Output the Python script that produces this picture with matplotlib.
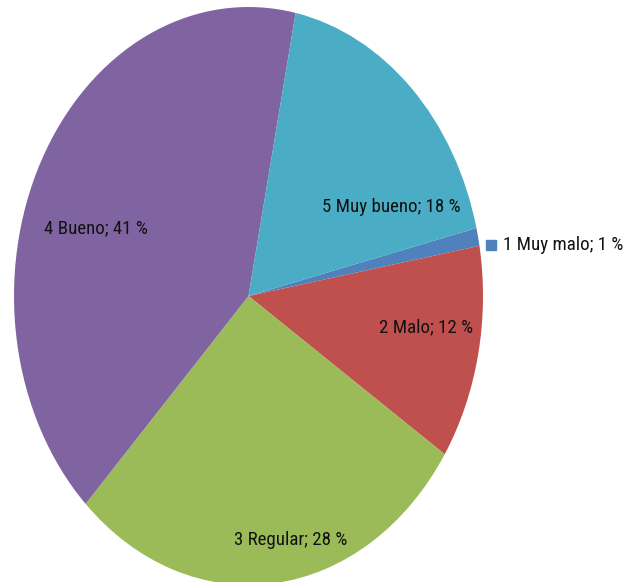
import matplotlib
matplotlib.use("Agg")
import matplotlib.pyplot as plt
from matplotlib import font_manager

# data
categories = ["1 Muy malo", "2 Malo", "3 Regular", "4 Bueno", "5 Muy bueno"]
shares = [1, 12, 28, 41, 18]
colors = ["#4F81BD", "#C0504D", "#9BBB59", "#8064A2", "#4BACC6"]

# label positions (axes data units, pie radius = 1)
label_pos = {
    "1 Muy malo": (1.085, 0.176),
    "2 Malo": (0.757, -0.107),
    "3 Regular": (0.181, -0.844),
    "4 Bueno": (-0.65, 0.235),
    "5 Muy bueno": (0.608, 0.308),
}


def pick_font():
    '''Use a narrow font when there is one'''
    names = {f.name for f in font_manager.fontManager.ttflist}
    for name in ["Liberation Sans Narrow", "Roboto Condensed", "Open Sans Condensed"]:
        if name in names:
            return [name, "DejaVu Sans"]
    return ["Liberation Sans", "DejaVu Sans"]


def main():
    plt.rcParams["font.family"] = pick_font()
    fig = plt.figure(figsize=(6.24, 5.82), dpi=100)
    # elliptical pie: axes box matches the ellipse bounds
    ax = fig.add_axes([14 / 624, -3 / 582, 469 / 624, 578 / 582])
    ax.pie(shares, colors=colors, startangle=13.6, counterclock=False,
           radius=1, wedgeprops={"linewidth": 0})
    ax.set_aspect("auto")
    ax.set_xlim(-1, 1)
    ax.set_ylim(-1, 1)
    ax.axis("off")

    for name, val in zip(categories, shares):
        x, y = label_pos[name]
        ha = "left" if name == "1 Muy malo" else "center"
        ax.text(x, y, f"{name}; {val} %", ha=ha, va="center",
                fontsize=13.6, color="#111111", clip_on=False)

    # small legend key next to the outside label
    ax.plot([1.032], [0.176], marker="s", markersize=7, color=colors[0],
            clip_on=False)

    fig.savefig("out.png", dpi=100)


if __name__ == "__main__":
    main()
